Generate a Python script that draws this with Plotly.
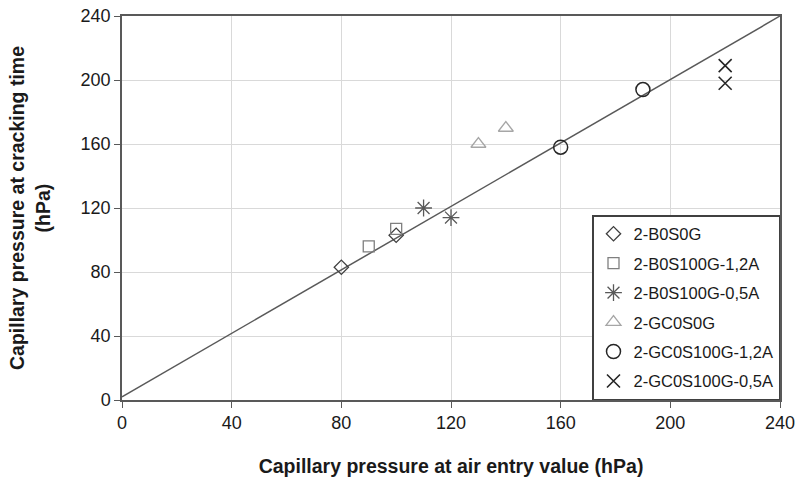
import plotly.graph_objects as go

# Data
names = ["2-B0S0G", "2-B0S100G-1,2A", "2-B0S100G-0,5A", "2-GC0S0G", "2-GC0S100G-1,2A", "2-GC0S100G-0,5A"]
x_b0s0g = [80, 100]
y_b0s0g = [83, 103]
x_b0s100g_12 = [90, 100]
y_b0s100g_12 = [96, 107]
x_b0s100g_05 = [110, 120]
y_b0s100g_05 = [120, 114]
x_gc0s0g = [130, 140]
y_gc0s0g = [160, 170]
x_gc0s100g_12 = [160, 190]
y_gc0s100g_12 = [158, 194]
x_gc0s100g_05 = [220, 220]
y_gc0s100g_05 = [209, 198]
ref_x = [0, 240]
ref_y = [2, 240]
ticks = [0, 40, 80, 120, 160, 200, 240]

series = [
    (x_b0s0g, y_b0s0g, "diamond-open", "#404040", 11, 1.3),
    (x_b0s100g_12, y_b0s100g_12, "square-open", "#7f7f7f", 11, 1.3),
    (x_b0s100g_05, y_b0s100g_05, "asterisk-open", "#595959", 14, 1.3),
    (x_gc0s0g, y_gc0s0g, "triangle-up-open", "#a6a6a6", 13, 1.3),
    (x_gc0s100g_12, y_gc0s100g_12, "circle-open", "#262626", 14, 1.5),
    (x_gc0s100g_05, y_gc0s100g_05, "x-thin-open", "#262626", 13, 1.6),
]

fig = go.Figure()
fig.add_trace(go.Scatter(x=ref_x, y=ref_y, mode="lines",
                         line=dict(color="#595959", width=1.5),
                         showlegend=False, hoverinfo="skip"))
for i, (xs, ys, sym, col, sz, lw) in enumerate(series):
    fig.add_trace(go.Scatter(
        x=xs, y=ys, mode="markers", name=names[i], legendgroup=f"g{i}",
        marker=dict(symbol=sym, size=sz, color=col, line=dict(color=col, width=lw)),
    ))

font_family = "Liberation Sans, Arial, sans-serif"
fig.update_layout(
    width=801, height=483,
    margin=dict(l=122, r=21, t=16, b=83),
    paper_bgcolor="white", plot_bgcolor="white",
    font=dict(family=font_family, color="#1a1a1a", size=16),
    legend=dict(
        x=1, y=0, xanchor="right", yanchor="bottom",
        bgcolor="white", bordercolor="#404040", borderwidth=1.5,
        font=dict(size=16.5, color="#1a1a1a"),
        traceorder="grouped", tracegroupgap=5,
        itemwidth=30,
    ),
    xaxis=dict(
        range=[0, 240], tickvals=ticks, ticktext=[str(t) for t in ticks],
        showgrid=True, gridcolor="#d9d9d9", gridwidth=1,
        showline=True, linecolor="#595959", linewidth=1.5, mirror=True,
        ticks="outside", ticklen=6, tickcolor="#595959",
        tickfont=dict(size=18), zeroline=False, automargin=False,
        title=dict(text="<b>Capillary pressure at air entry value (hPa)</b>",
                   font=dict(size=19.5), standoff=27),
    ),
    yaxis=dict(
        range=[0, 240], tickvals=ticks, ticktext=[str(t) for t in ticks],
        showgrid=True, gridcolor="#d9d9d9", gridwidth=1,
        showline=True, linecolor="#595959", linewidth=1.5, mirror=True,
        ticks="outside", ticklen=6, tickcolor="#595959",
        tickfont=dict(size=18), zeroline=False, automargin=False,
        title=dict(text="<b>Capillary pressure at cracking time<br>(hPa)</b>",
                   font=dict(size=19.5), standoff=25),
    ),
)
fig.write_html("out.html",
               config={"displayModeBar": False},
               post_script="document.body.style.margin='0';document.body.style.overflow='hidden';")
